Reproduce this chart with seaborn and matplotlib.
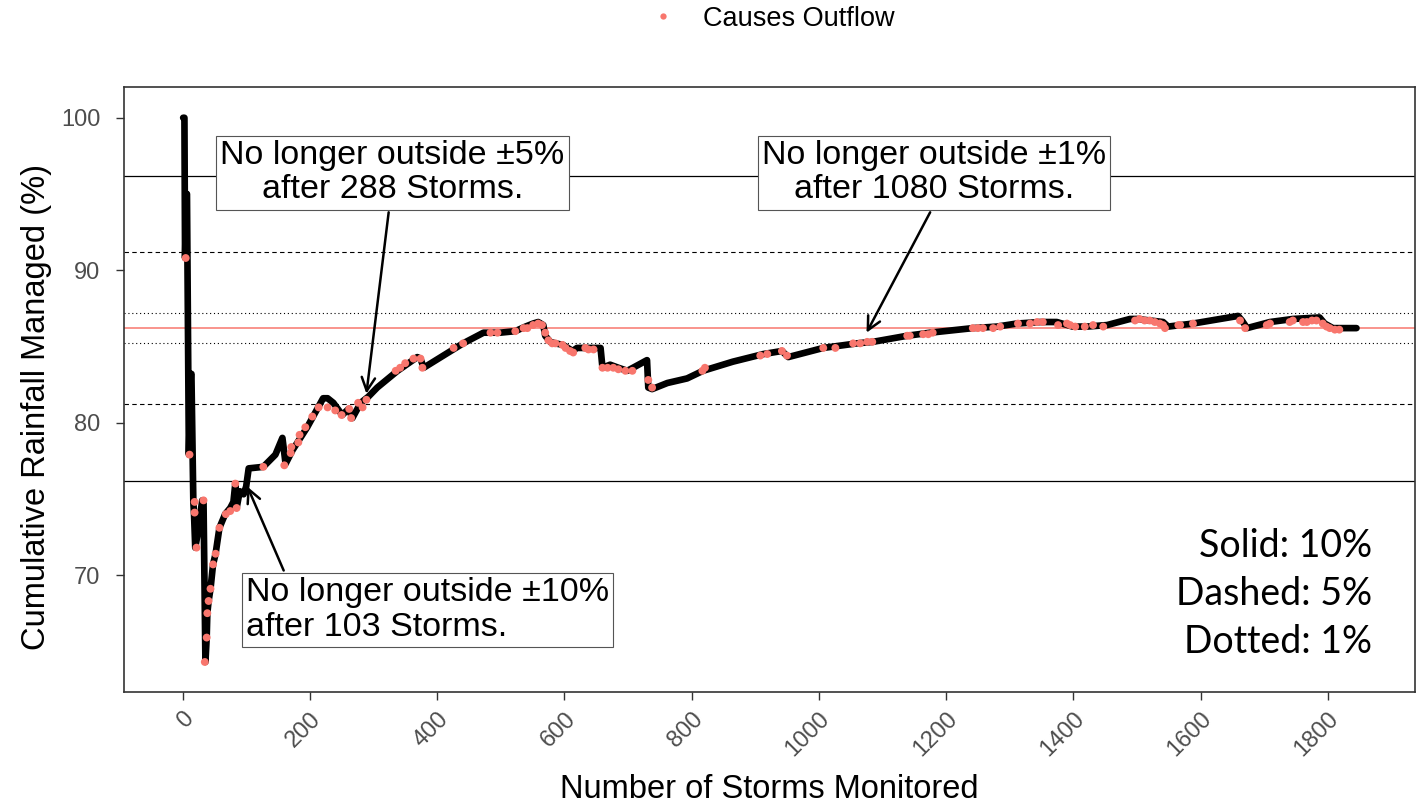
import numpy as np
import pandas as pd
import matplotlib
matplotlib.use("Agg")
import matplotlib.pyplot as plt
import seaborn as sns

# cumulative rainfall managed, traced vertices of the black line
storm_n = [1, 3, 4, 6, 7, 10, 13, 14, 17, 18, 20, 23, 31, 33, 36, 38, 39, 41, 44, 48,
           52, 58, 67, 75, 80, 83, 85, 90, 96, 100, 104, 127, 146, 157, 162, 173, 196,
           221, 228, 237, 251, 261, 267, 280, 292, 306, 338, 369, 374, 379, 441, 473,
           499, 523, 539, 551, 559, 567, 570, 578, 586, 598, 613, 620, 657, 660, 672,
           685, 699, 708, 730, 732, 738, 762, 793, 818, 865, 913, 942, 952, 1007, 1060,
           1085, 1139, 1175, 1242, 1280, 1311, 1348, 1374, 1399, 1421, 1453, 1489, 1500,
           1541, 1549, 1588, 1659, 1665, 1673, 1709, 1745, 1787, 1795, 1808, 1823, 1845]
cum_pct = [100.0, 100.0, 90.8, 95.0, 95.0, 77.9, 83.2, 83.2, 74.8, 74.1, 71.8, 72.5, 74.9,
           74.9, 64.3, 65.9, 67.5, 68.3, 69.1, 70.7, 71.4, 73.1, 74.0, 74.4, 74.8, 76.0,
           74.4, 75.5, 75.3, 75.8, 77.0, 77.1, 77.9, 79.0, 77.3, 78.2, 79.7, 81.6, 81.6,
           81.3, 80.5, 80.9, 80.3, 81.3, 81.7, 82.3, 83.4, 84.3, 84.2, 83.6, 85.2, 85.9,
           85.9, 86.0, 86.3, 86.5, 86.6, 86.4, 85.7, 85.3, 85.2, 85.1, 84.7, 84.9, 84.9,
           83.6, 83.8, 83.6, 83.4, 83.6, 84.1, 82.3, 82.2, 82.6, 82.9, 83.4, 84.0, 84.5,
           84.7, 84.3, 84.9, 85.2, 85.3, 85.7, 85.9, 86.2, 86.3, 86.5, 86.6, 86.6, 86.3,
           86.3, 86.4, 86.8, 86.8, 86.6, 86.3, 86.5, 87.0, 86.7, 86.2, 86.6, 86.8, 86.9,
           86.5, 86.2, 86.2, 86.2]

# storms that caused outflow
outflow_n = [5, 11, 19, 19, 22, 33, 35, 38, 39, 41, 44, 48, 52, 58, 68, 75, 83, 85,
             127, 160, 170, 171, 182, 184, 193, 204, 214, 228, 240, 250, 262, 265, 276,
             283, 289, 335, 342, 350, 363, 374, 377, 426, 441, 484, 495, 523, 536, 542,
             551, 559, 565, 570, 575, 581, 586, 597, 602, 609, 614, 633, 638, 646, 660,
             668, 677, 685, 696, 707, 732, 738, 817, 821, 908, 919, 942, 950, 1007, 1026,
             1054, 1065, 1076, 1084, 1139, 1143, 1164, 1172, 1179, 1242, 1250, 1258, 1274,
             1285, 1313, 1332, 1343, 1352, 1376, 1390, 1395, 1403, 1418, 1431, 1447, 1497,
             1504, 1512, 1520, 1528, 1536, 1541, 1544, 1565, 1568, 1588, 1662, 1670, 1704,
             1709, 1740, 1745, 1761, 1767, 1775, 1782, 1792, 1798, 1803, 1811, 1818]
outflow_pct = [90.8, 77.9, 74.8, 74.1, 71.8, 74.9, 64.3, 65.9, 67.5, 68.3, 69.1, 70.7,
               71.4, 73.1, 74.0, 74.2, 76.0, 74.4, 77.1, 77.2, 78.0, 78.4, 78.7, 79.2,
               79.7, 80.4, 81.0, 81.0, 80.8, 80.5, 80.9, 80.3, 81.3, 81.0, 81.5, 83.4,
               83.6, 83.9, 84.2, 84.2, 83.6, 84.9, 85.2, 85.9, 85.9, 86.0, 86.2, 86.2,
               86.4, 86.5, 86.4, 85.9, 85.4, 85.2, 85.2, 85.1, 84.9, 84.7, 84.6, 84.9,
               84.8, 84.8, 83.6, 83.6, 83.6, 83.5, 83.4, 83.4, 82.8, 82.3, 83.4, 83.6,
               84.4, 84.5, 84.7, 84.4, 84.9, 84.9, 85.2, 85.2, 85.3, 85.3, 85.7, 85.7,
               85.8, 85.8, 85.9, 86.2, 86.2, 86.2, 86.2, 86.3, 86.5, 86.5, 86.6, 86.6,
               86.4, 86.5, 86.4, 86.3, 86.3, 86.4, 86.3, 86.7, 86.8, 86.7, 86.7, 86.6,
               86.5, 86.4, 86.2, 86.4, 86.4, 86.5, 86.7, 86.2, 86.4, 86.5, 86.6, 86.7,
               86.6, 86.6, 86.7, 86.7, 86.5, 86.3, 86.2, 86.1, 86.1]

final_pct = 86.2
band_solid = 10
band_dashed = 5
band_dotted = 1

notes = ["No longer outside \u00b15%\nafter 288 Storms.",
         "No longer outside \u00b11%\nafter 1080 Storms.",
         "No longer outside \u00b110%\nafter 103 Storms."]
note_align = ["center", "center", "left"]
note_box = [(330, 96.4), (1181, 96.4), (385, 67.7)]
arrow_from = [(324, 93.8), (1175, 93.8), (159, 70.3)]
arrow_to = [(289, 81.9), (1075, 85.9), (102, 75.8)]

line_df = pd.DataFrame({"storms": storm_n, "pct": cum_pct})
pts_df = pd.DataFrame({"storms": outflow_n, "pct": outflow_pct,
                       "kind": ["Causes Outflow"] * len(outflow_n)})

sns.set_style("white")
plt.rcParams["font.family"] = ["Liberation Sans", "DejaVu Sans"]
plt.rcParams["text.color"] = "black"
plt.rcParams["axes.labelcolor"] = "black"

fig = plt.figure(figsize=(14.25, 8.08), dpi=100)
ax = fig.add_axes([0.087, 0.143, 0.906, 0.749])

# reference lines
ax.axhline(final_pct, color="#F8766D", lw=1.1, zorder=1)
for off, ls in [(band_solid, "-"), (band_dashed, (0, (4, 3))), (band_dotted, (0, (1, 2.5)))]:
    for sgn in (1, -1):
        ax.axhline(final_pct + sgn * off, color="black", lw=0.9 if ls == "-" else 0.8,
                   ls=ls, zorder=1)

sns.lineplot(data=line_df, x="storms", y="pct", color="black", lw=4.8, ax=ax,
             sort=False, estimator=None, zorder=2)
sns.scatterplot(data=pts_df, x="storms", y="pct", hue="kind", palette=["#F8766D"],
                s=32, linewidth=0, ax=ax, zorder=3)

for txt, al, box, a0, a1 in zip(notes, note_align, note_box, arrow_from, arrow_to):
    ax.annotate("", xy=a1, xytext=a0,
                arrowprops=dict(arrowstyle="->", color="black", lw=1.8,
                                mutation_scale=24, shrinkA=0, shrinkB=0), zorder=4)
    ax.text(box[0], box[1], txt, ha="center", va="center", fontsize=24.5,
            linespacing=1.15, multialignment=al,
            bbox=dict(boxstyle="square,pad=0.12", fc="white", ec="#555555", lw=0.8),
            zorder=5)

ax.text(0.967, 0.272, "Solid: 10%\nDashed: 5%\nDotted: 1%", transform=ax.transAxes,
        ha="right", va="top", fontsize=27, linespacing=1.42, family=["Lato", "DejaVu Sans"])

ax.set_xlim(-92, 1937)
ax.set_ylim(62.3, 102.0)
ax.set_xticks(range(0, 1801, 200))
ax.set_yticks([70, 80, 90, 100])
ax.tick_params(axis="both", colors="#333333", labelcolor="#4D4D4D", labelsize=17,
               length=6, width=1, direction="out", bottom=True, left=True)
ax.tick_params(axis="y", pad=11)
ax.tick_params(axis="x", pad=5)
plt.setp(ax.get_xticklabels(), rotation=45, ha="right", rotation_mode="anchor")
for sp in ax.spines.values():
    sp.set_color("#333333")
    sp.set_linewidth(1.2)
ax.set_xlabel("Number of Storms Monitored", fontsize=23.5, labelpad=10)
ax.set_ylabel("Cumulative Rainfall Managed (%)", fontsize=23.5)
ax.yaxis.set_label_coords(-0.056, 0.472)

handles, labels = ax.get_legend_handles_labels()
ax.get_legend().remove()
fig.legend(handles, labels, loc="center", bbox_to_anchor=(0.537, 0.977), frameon=False,
           fontsize=19.5, markerscale=0.8, handletextpad=0.5)

fig.savefig("out.png", dpi=100)
